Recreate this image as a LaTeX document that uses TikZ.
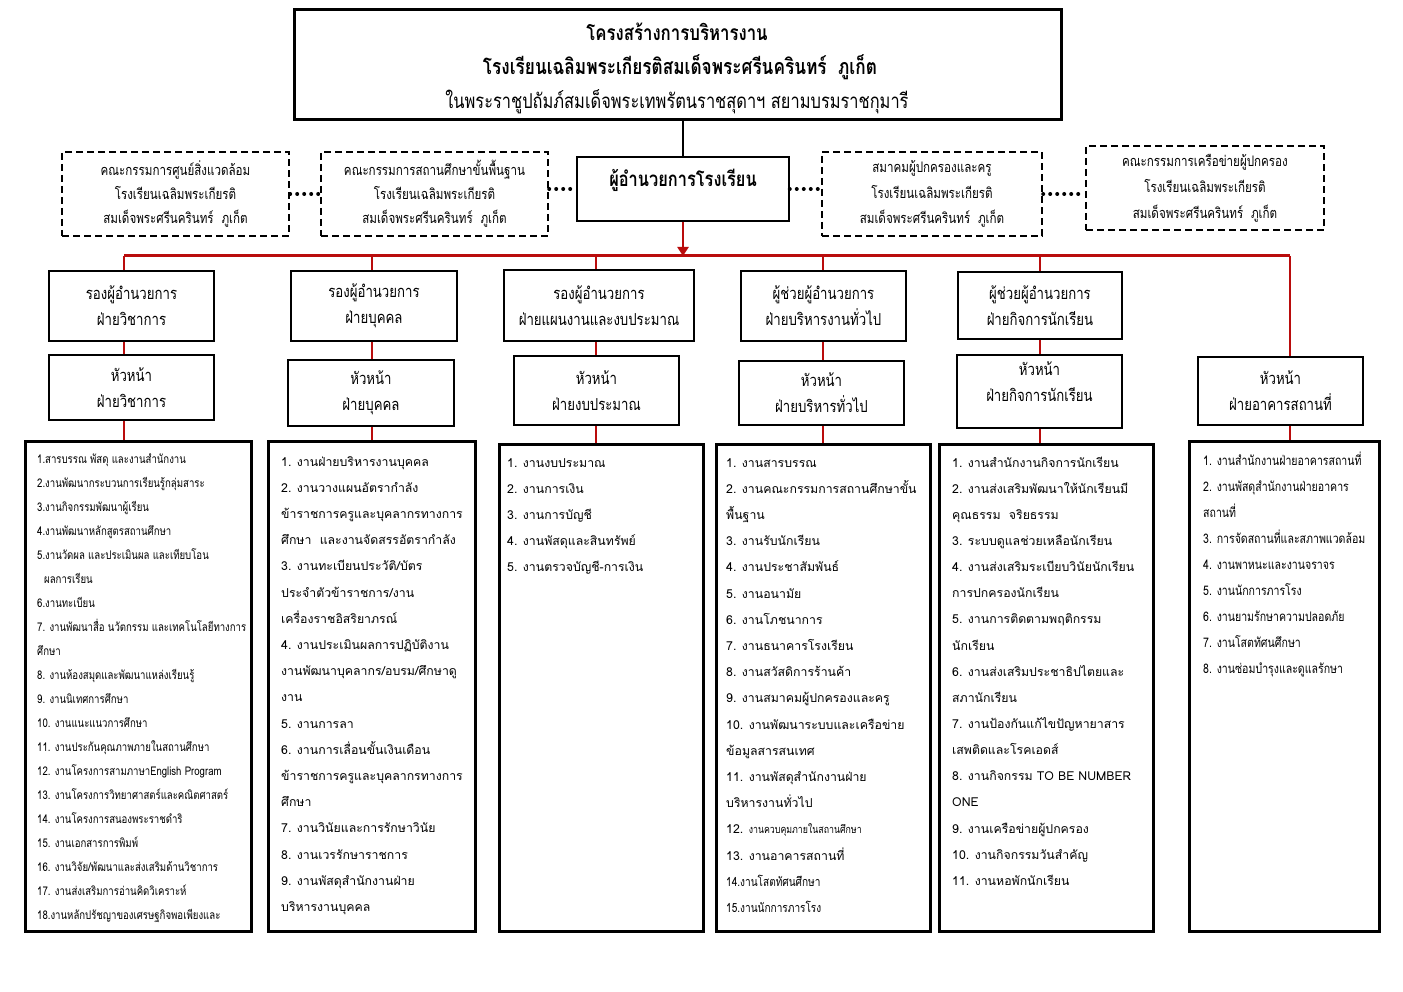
\documentclass[tikz,border=0pt]{standalone}
\usepackage{fontspec}
\newfontfamily\thai[Script=Thai]{Loma}
\newfontfamily\thain[Script=Thai,FakeStretch=0.8]{Loma}
\usetikzlibrary{arrows.meta}
\definecolor{dred}{RGB}{185,12,12}
\begin{document}
\begin{tikzpicture}[x=1pt,y=-1pt,
  box/.style={draw,line width=1.8pt,align=center,inner sep=0pt,font=\thain\fontsize{16.5}{26}\selectfont},
  tbox/.style={box,line width=2.6pt},
  dbox/.style={draw,line width=2.4pt,dash pattern=on 7pt off 4pt,align=center,inner sep=0pt,font=\thain\fontsize{14.5}{24}\selectfont},
  lbox/.style={draw,line width=3pt,inner sep=0pt},
  dots/.style={line width=4pt,dash pattern=on 0pt off 7pt,line cap=round},
  rline/.style={draw=dred,line width=2.6pt},
  lt/.style={inner sep=0pt,anchor=base west,font=\thai\fontsize{12.3}{14}\selectfont},
  ltn/.style={inner sep=0pt,anchor=base west,font=\thain\fontsize{12}{14}\selectfont}]
\fill[white] (0,0) rectangle (1403,992);
\useasboundingbox (0,0) rectangle (1403,992);
% title
\node[draw,line width=3pt,minimum width=767pt,minimum height=110pt] (title) at (677.5,65) {};
\node[font=\thain\bfseries\fontsize{21}{24}\selectfont] (t1) at (677,32) {โครงสร้างการบริหารงาน};
\node[font=\thain\bfseries\fontsize{21.5}{24}\selectfont] (t2) at (680,67) {โรงเรียนเฉลิมพระเกียรติสมเด็จพระศรีนครินทร์~~ภูเก็ต};
\node[font=\thain\fontsize{20.5}{22}\selectfont] (t3) at (677,102) {ในพระราชูปถัมภ์สมเด็จพระเทพรัตนราชสุดาฯ สยามบรมราชกุมารี};
% director
\node[draw,line width=1.5pt,minimum width=212pt,minimum height=64pt] (dir) at (683,189) {};
\node[font=\thain\bfseries\fontsize{20.5}{22}\selectfont] (dirt) at (683,180) {ผู้อำนวยการโรงเรียน};
% dashed boxes
\node[dbox,minimum width=227pt,minimum height=84pt] (d1) at (175.5,194) {คณะกรรมการศูนย์สิ่งแวดล้อม\\โรงเรียนเฉลิมพระเกียรติ\\สมเด็จพระศรีนครินทร์~~ภูเก็ต};
\node[dbox,minimum width=227pt,minimum height=84pt] (d2) at (434.5,194) {คณะกรรมการสถานศึกษาขั้นพื้นฐาน\\โรงเรียนเฉลิมพระเกียรติ\\สมเด็จพระศรีนครินทร์~~ภูเก็ต};
\node[dbox,minimum width=220pt,minimum height=84pt,font=\thain\fontsize{14.5}{25.5}\selectfont] (d3) at (932,194) {สมาคมผู้ปกครองและครู\\โรงเรียนเฉลิมพระเกียรติ\\สมเด็จพระศรีนครินทร์~~ภูเก็ต};
\node[dbox,minimum width=238pt,minimum height=84pt,font=\thain\fontsize{14.5}{26}\selectfont] (d4) at (1205,188) {คณะกรรมการเครือข่ายผู้ปกครอง\\โรงเรียนเฉลิมพระเกียรติ\\สมเด็จพระศรีนครินทร์~~ภูเก็ต};
\draw[dots] (d1.east) -- (d2.west);
\draw[dots] (d2.east |- dir.west) -- (dir.west);
\draw[dots] (dir.east) -- (dir.east -| d3.west);
\draw[dots] (d3.east) -- (d3.east -| d4.west);
\draw[line width=2pt] (dir.north |- title.south) -- (dir.north);
% level 1
\node[box,minimum width=165pt,minimum height=70pt] (b1) at (131.5,306) {รองผู้อำนวยการ\\ฝ่ายวิชาการ};
\node[tbox,minimum width=166pt,minimum height=70pt] (b2) at (374,306) {รองผู้อำนวยการ\\ฝ่ายบุคคล};
\node[tbox,minimum width=190pt,minimum height=71pt] (b3) at (599,305.5) {รองผู้อำนวยการ\\ฝ่ายแผนงานและงบประมาณ};
\node[box,minimum width=165pt,minimum height=70pt] (b4) at (823.5,306) {ผู้ช่วยผู้อำนวยการ\\ฝ่ายบริหารงานทั่วไป};
\node[tbox,minimum width=164pt,minimum height=67pt] (b5) at (1040,305.5) {ผู้ช่วยผู้อำนวยการ\\ฝ่ายกิจการนักเรียน};
% level 2
\node[box,minimum width=165pt,minimum height=65pt] (h1) at (131.5,387.5) {หัวหน้า\\ฝ่ายวิชาการ};
\node[tbox,minimum width=166pt,minimum height=66pt] (h2) at (371,393) {หัวหน้า\\ฝ่ายบุคคล};
\node[tbox,minimum width=165pt,minimum height=69pt] (h3) at (596.5,390.5) {หัวหน้า\\ฝ่ายงบประมาณ};
\node[box,minimum width=165pt,minimum height=64pt] (h4) at (821.5,393) {หัวหน้า\\ฝ่ายบริหารทั่วไป};
\node[tbox,minimum width=165pt,minimum height=73pt] (h5) at (1039.5,391.5) {หัวหน้า\\ฝ่ายกิจการนักเรียน\\[-6pt]};
\node[tbox,minimum width=165pt,minimum height=68pt] (h6) at (1280.5,391) {หัวหน้า\\ฝ่ายอาคารสถานที่};
% level 3 boxes
\node[lbox,minimum width=226pt,minimum height=490pt] (l1) at (138,686) {};
\node[lbox,minimum width=207pt,minimum height=490pt] (l2) at (371.5,686) {};
\node[lbox,minimum width=204pt,minimum height=487pt] (l3) at (601,687.5) {};
\node[lbox,minimum width=214pt,minimum height=487pt] (l4) at (823,687.5) {};
\node[lbox,minimum width=214pt,minimum height=487pt] (l5) at (1046,687.5) {};
\node[lbox,minimum width=190pt,minimum height=490pt] (l6) at (1284,686) {};
% red connectors
\coordinate (c1) at (124,256);
\coordinate (c2) at (372,256);
\coordinate (c3) at (596,256);
\coordinate (c4) at (823,256);
\coordinate (c5) at (1040,256);
\coordinate (c6) at (1290,256);
\draw[rline,line width=3pt] (c1) -- (c6);
\draw[rline,-{Triangle[width=11pt,length=9pt]}] (dir.south) -- (dir.south |- c1);
\foreach \c/\b/\h/\l in {c1/b1/h1/l1,c2/b2/h2/l2,c3/b3/h3/l3,c4/b4/h4/l4,c5/b5/h5/l5}{
  \draw[rline] (\c) -- (\c |- \b.north);
  \draw[rline] (\c |- \b.south) -- (\c |- \h.north);
  \draw[rline] (\c |- \h.south) -- (\c |- \l.north);
}
\draw[rline] (c6) -- (c6 |- h6.north);
\draw[rline] (c6 |- h6.south) -- (c6 |- l6.north);
% lists
\foreach \t [count=\i from 0] in {1.สารบรรณ พัสดุ และงานสำนักงาน,2.งานพัฒนากระบวนการเรียนรู้กลุ่มสาระ,3.งานกิจกรรมพัฒนาผู้เรียน,4.งานพัฒนาหลักสูตรสถานศึกษา,5.งานวัดผล และประเมินผล และเทียบโอน,{\hspace*{7pt}ผลการเรียน},6.งานทะเบียน,7. งานพัฒนาสื่อ นวัตกรรม และเทคโนโลยีทางการ,ศึกษา,8. งานห้องสมุดและพัฒนาแหล่งเรียนรู้,9. งานนิเทศการศึกษา,10. งานแนะแนวการศึกษา,11. งานประกันคุณภาพภายในสถานศึกษา,12. งานโครงการสามภาษาEnglish Program,13. งานโครงการวิทยาศาสตร์และคณิตศาสตร์,14. งานโครงการสนองพระราชดำริ,15. งานเอกสารการพิมพ์,16. งานวิจัย/พัฒนาและส่งเสริมด้านวิชาการ,17. งานส่งเสริมการอ่านคิดวิเคราะห์,18.งานหลักปรัชญาของเศรษฐกิจพอเพียงและ}
  \node[ltn] (l1-\i) at (37,{463+24*\i}) {\t};
\foreach \t [count=\i from 0] in {1. งานฝ่ายบริหารงานบุคคล,2. งานวางแผนอัตรากำลัง,ข้าราชการครูและบุคลากรทางการ,ศึกษา~~และงานจัดสรรอัตรากำลัง,3. งานทะเบียนประวัติ/บัตร,ประจำตัวข้าราชการ/งาน,เครื่องราชอิสริยาภรณ์,4. งานประเมินผลการปฏิบัติงาน,งานพัฒนาบุคลากร/อบรม/ศึกษาดู,งาน,5. งานการลา,6. งานการเลื่อนขั้นเงินเดือน,ข้าราชการครูและบุคลากรทางการ,ศึกษา,7. งานวินัยและการรักษาวินัย,8. งานเวรรักษาราชการ,9. งานพัสดุสำนักงานฝ่าย,บริหารงานบุคคล}
  \node[lt] (l2-\i) at (281,{466+26.2*\i}) {\t};
\foreach \t [count=\i from 0] in {1. งานงบประมาณ,2. งานการเงิน,3. งานการบัญชี,4. งานพัสดุและสินทรัพย์,5. งานตรวจบัญชี-การเงิน}
  \node[lt] (l3-\i) at (507,{467+26.2*\i}) {\t};
\foreach \t [count=\i from 0] in {1. งานสารบรรณ,2. งานคณะกรรมการสถานศึกษาขั้น,พื้นฐาน,3. งานรับนักเรียน,4. งานประชาสัมพันธ์,5. งานอนามัย,6. งานโภชนาการ,7. งานธนาคารโรงเรียน,8. งานสวัสดิการร้านค้า,9. งานสมาคมผู้ปกครองและครู,10. งานพัฒนาระบบและเครือข่าย,ข้อมูลสารสนเทศ,11. งานพัสดุสำนักงานฝ่าย,บริหารงานทั่วไป,{12. {\thain\fontsize{11}{12}\selectfont งานควบคุมภายในสถานศึกษา}},13. งานอาคารสถานที่,{\thain\fontsize{12.6}{14}\selectfont 14.งานโสตทัศนศึกษา},{\thain\fontsize{12.6}{14}\selectfont 15.งานนักการภารโรง}}
  \node[lt] (l4-\i) at (726,{467+26.2*\i}) {\t};
\foreach \t [count=\i from 0] in {1. งานสำนักงานกิจการนักเรียน,2. งานส่งเสริมพัฒนาให้นักเรียนมี,คุณธรรม~~จริยธรรม,3. ระบบดูแลช่วยเหลือนักเรียน,4. งานส่งเสริมระเบียบวินัยนักเรียน,การปกครองนักเรียน,5. งานการติดตามพฤติกรรม,นักเรียน,6. งานส่งเสริมประชาธิปไตยและ,สภานักเรียน,7. งานป้องกันแก้ไขปัญหายาสาร,เสพติดและโรคเอดส์,8. งานกิจกรรม TO BE NUMBER,ONE,9. งานเครือข่ายผู้ปกครอง,10. งานกิจกรรมวันสำคัญ,11. งานหอพักนักเรียน}
  \node[lt] (l5-\i) at (952,{467+26.15*\i}) {\t};
\foreach \t [count=\i from 0] in {1. งานสำนักงานฝ่ายอาคารสถานที่,2. งานพัสดุสำนักงานฝ่ายอาคาร,สถานที่,3. การจัดสถานที่และสภาพแวดล้อม,4. งานพาหนะและงานจราจร,5. งานนักการภารโรง,6. งานยามรักษาความปลอดภัย,7. งานโสตทัศนศึกษา,8. งานซ่อมบำรุงและดูแลรักษา}
  \node[ltn,font=\thain\fontsize{13.2}{14}\selectfont] (l6-\i) at (1203,{465+26*\i}) {\t};
\end{tikzpicture}
\end{document}
